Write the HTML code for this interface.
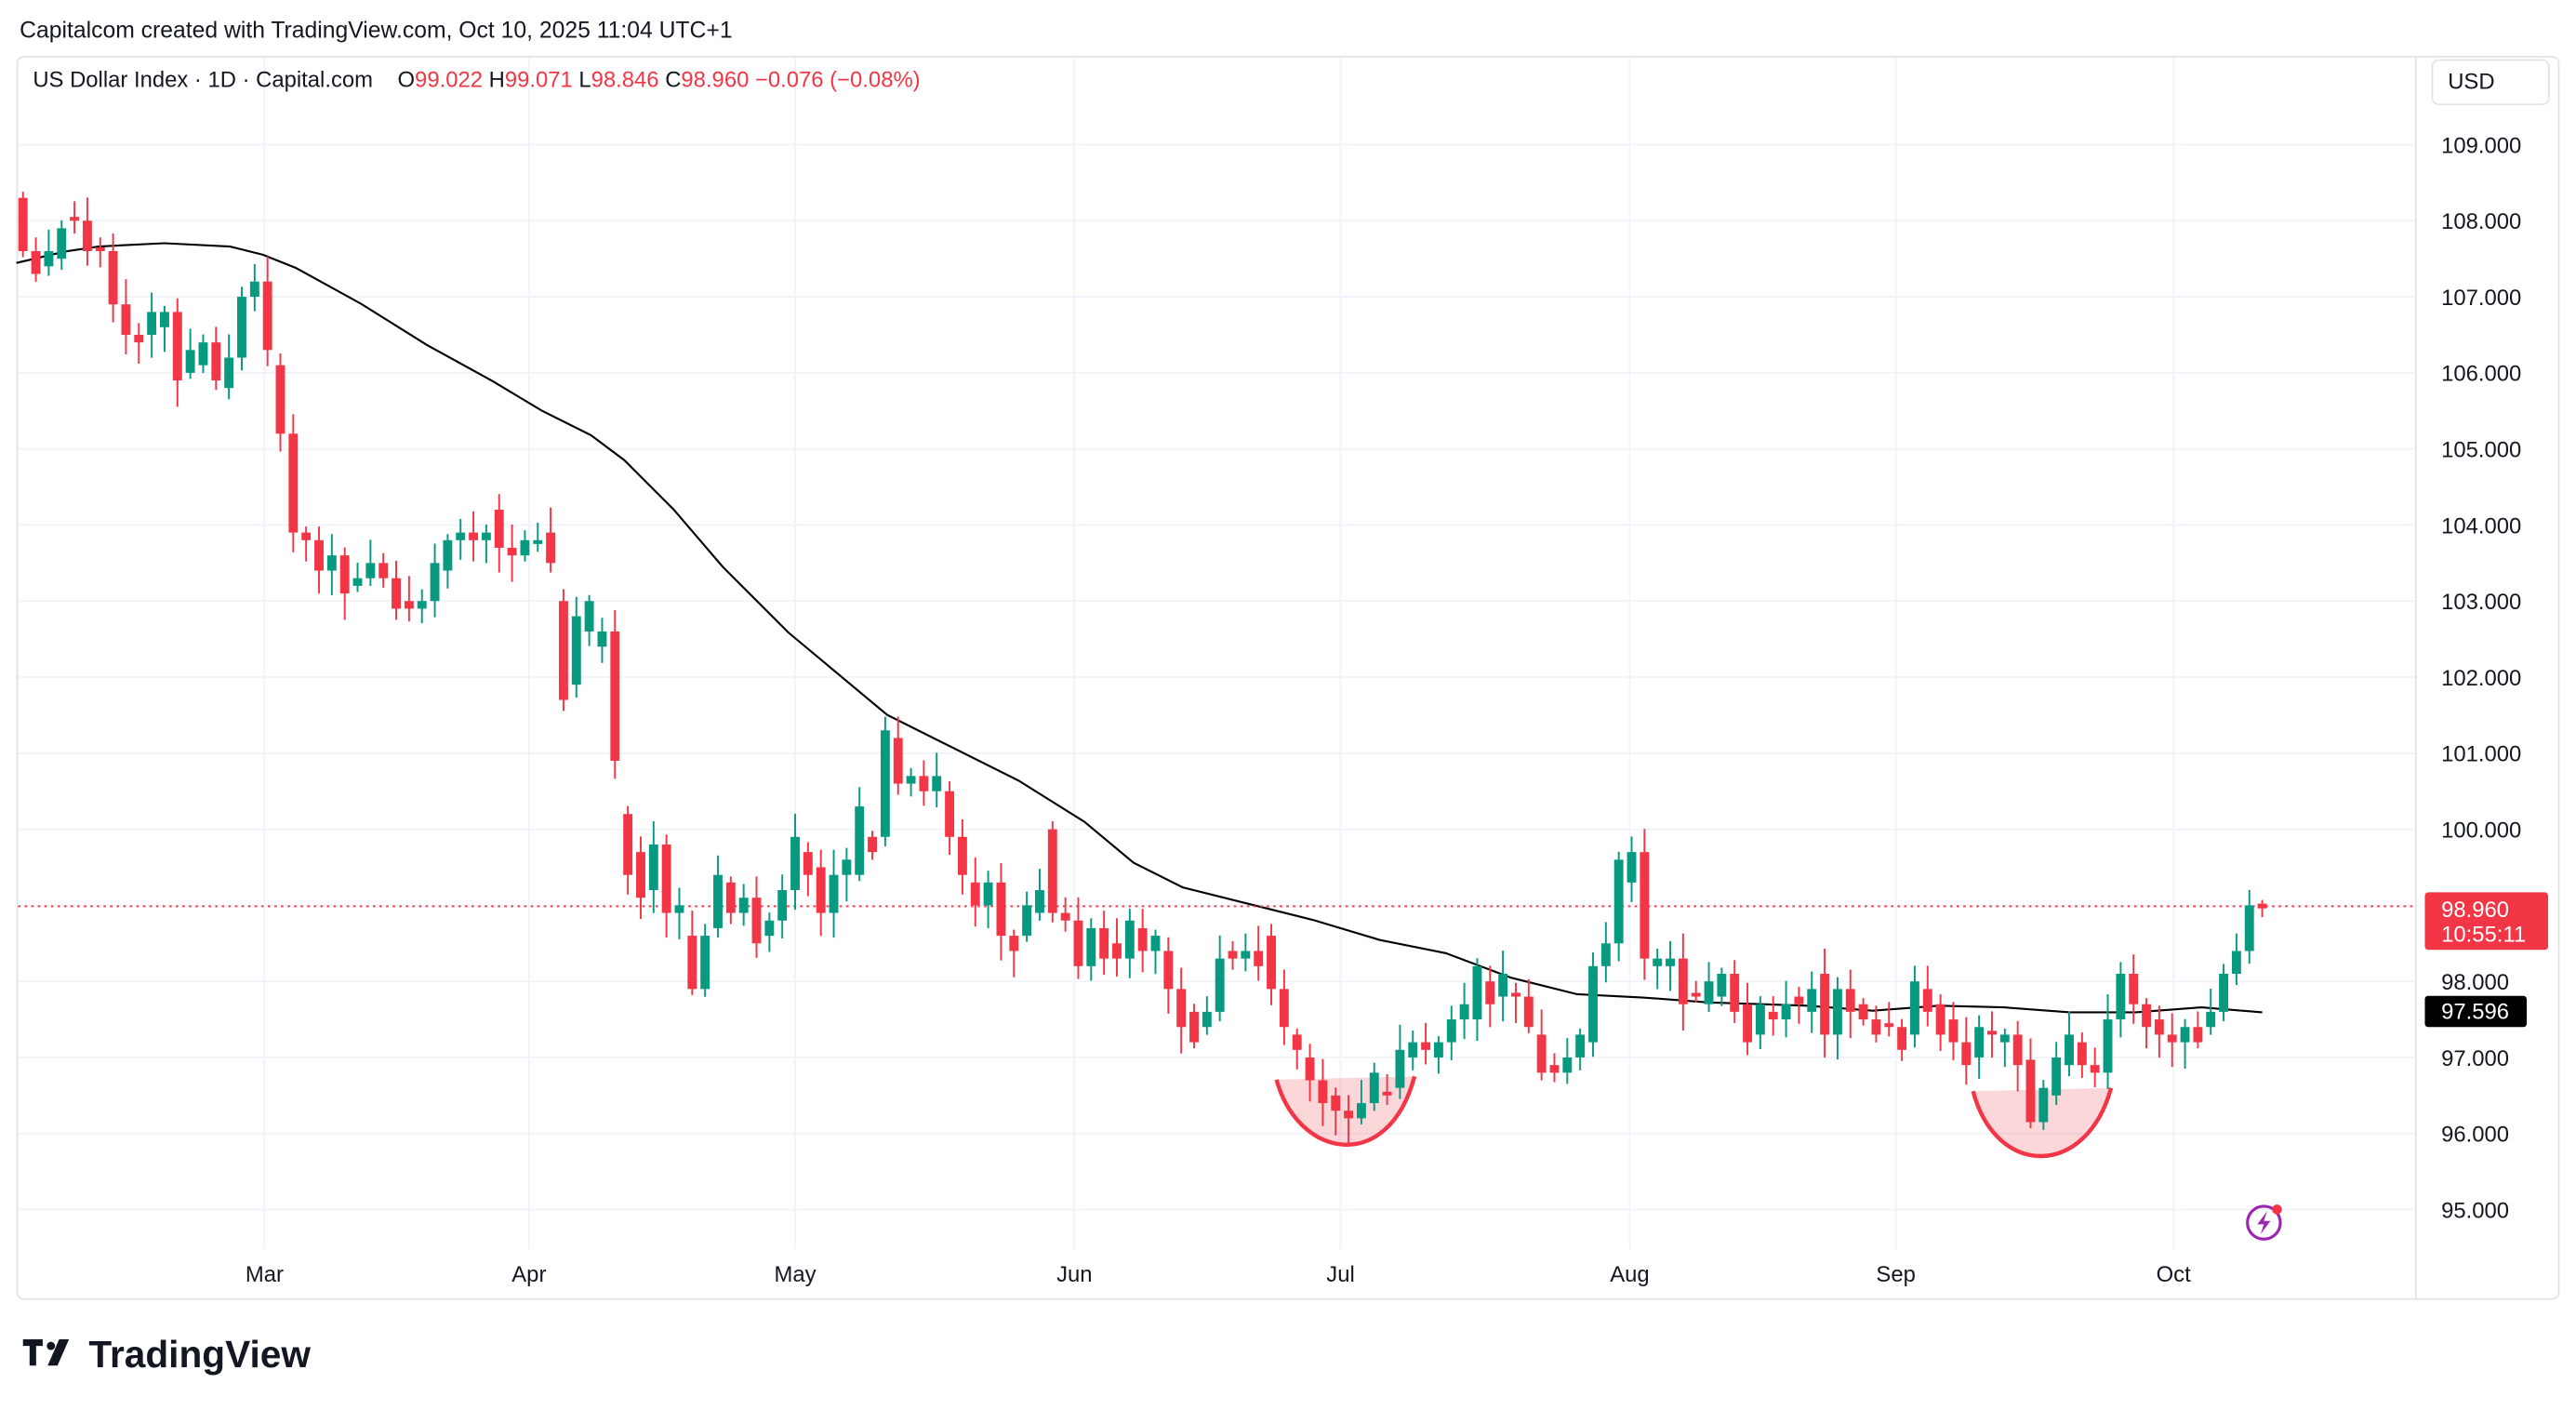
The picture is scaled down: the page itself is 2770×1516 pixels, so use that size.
<!DOCTYPE html>
<html><head><meta charset="utf-8"><style>
html,body{margin:0;padding:0;background:#fff;}
svg{display:block;}
text{font-family:"Liberation Sans",sans-serif;}
</style></head><body>
<svg id="c" width="2770" height="1516" viewBox="0 0 1568 858" preserveAspectRatio="none" xmlns="http://www.w3.org/2000/svg">
<rect x="0" y="0" width="1568" height="858" fill="#fff"/>
<text x="12" y="23" font-size="14" fill="#131722">Capitalcom created with TradingView.com, Oct 10, 2025 11:04 UTC+1</text>
<rect x="10.5" y="34.5" width="1547" height="756" rx="4" fill="none" stroke="#e0e3eb"/>
<line x1="1470.5" y1="35" x2="1470.5" y2="790" stroke="#e0e3eb"/>
<g id="grid" stroke="#f0f3fa" stroke-width="1"></g>
<g id="ma"></g>
<line x1="11" y1="551.5" x2="1470" y2="551.5" stroke="#f23645" stroke-width="1" stroke-dasharray="1.5,2.5"/>
<path d="M777,657 C790,705 845,715 861,655 Z" fill="rgba(242,54,69,0.2)"/>
<path d="M777,657 C790,705 845,715 861,655" fill="none" stroke="#f23645" stroke-width="2.5"/>
<path d="M1201,664 C1215,717 1270,717 1285,662 Z" fill="rgba(242,54,69,0.2)"/>
<path d="M1201,664 C1215,717 1270,717 1285,662" fill="none" stroke="#f23645" stroke-width="2.5"/>
<g id="candles"></g>
<g id="axis" font-size="13.5" fill="#131722"></g>
<text x="20" y="53" font-size="13.5" fill="#131722">US Dollar Index · 1D · Capital.com</text>
<text x="242" y="53" font-size="13.5" fill="#131722">O<tspan fill="#f23645">99.022</tspan> H<tspan fill="#f23645">99.071</tspan> L<tspan fill="#f23645">98.846</tspan> C<tspan fill="#f23645">98.960</tspan> <tspan fill="#f23645">−0.076 (−0.08%)</tspan></text>
<rect x="1480.5" y="36.5" width="71" height="27" rx="4" fill="#fff" stroke="#e0e3eb"/>
<text x="1490" y="54" font-size="13.5" fill="#131722">USD</text>
<rect x="1476" y="543" width="75" height="35" rx="2" fill="#f23645"/>
<text x="1486" y="558" font-size="13.5" fill="#fff">98.960</text>
<text x="1486" y="573" font-size="13.5" fill="#fff">10:55:11</text>
<rect x="1476" y="606" width="62" height="19" rx="2" fill="#000"/>
<text x="1486" y="620" font-size="13.5" fill="#fff">97.596</text>
<circle cx="1378" cy="744" r="10" fill="none" stroke="#9c27b0" stroke-width="1.8"/>
<path d="M1380,737 L1374,745 L1378,745 L1376,751 L1382,743 L1378,743 Z" fill="#9c27b0"/>
<circle cx="1386" cy="736" r="3" fill="#f23645"/>
<g fill="#131722">
<path d="M14,815 h12 v4 h-4 v12 h-4 v-12 h-4 z"/>
<circle cx="31" cy="819" r="2.5"/>
<path d="M36,815 h6 l-7,16 h-6 z"/>
</g>
<text x="54" y="832" font-size="23" font-weight="bold" fill="#131722">TradingView</text>
</svg>
<script>
var NS="http://www.w3.org/2000/svg";
function el(t,a,p){var e=document.createElementNS(NS,t);for(var k in a)e.setAttribute(k,a[k]);p.appendChild(e);return e;}
function Y(p){return 88+(109-p)*46.29;}
var grid=document.getElementById('grid'),axis=document.getElementById('axis');
for(var p=95;p<=109;p++){var y=Y(p);el('line',{x1:11,x2:1470,y1:y,y2:y},grid);
 var t=el('text',{x:1486,y:y+5},axis);t.textContent=p.toFixed(3);}
var months=[["Mar",161],["Apr",322],["May",484],["Jun",654],["Jul",816],["Aug",992],["Sep",1154],["Oct",1323]];
months.forEach(function(m){el('line',{x1:m[1],x2:m[1],y1:35,y2:760},grid);var t=el('text',{x:m[1],y:780,'text-anchor':'middle'},axis);t.textContent=m[0];});
var D=[[108.3,107.6],[107.6,107.3],[107.4,107.6],[107.5,107.9],[108.05,108.0],[108.0,107.6],[107.65,107.6],[107.6,106.9],[106.9,106.5],[106.5,106.4],[106.5,106.8],[106.6,106.8],[106.8,105.9],[106.0,106.3],[106.1,106.4],[106.4,105.9],[105.8,106.2],[106.2,107.0],[107.0,107.2],
[107.2,106.3],[106.1,105.2],[105.2,103.9],[103.9,103.8],[103.8,103.4],[103.4,103.6],[103.6,103.1],[103.2,103.3],[103.3,103.5],[103.5,103.3],[103.3,102.9],[103.0,102.9],[102.9,103.0],[103.0,103.5],[103.4,103.8],[103.8,103.9],[103.9,103.8],[103.8,103.9],[104.2,103.7],
[103.7,103.6],[103.6,103.8],[103.75,103.8],[103.9,103.5],[103.0,101.7],[101.9,102.8],[102.6,103.0],[102.4,102.6],[102.6,100.9],[100.2,99.4],[99.7,99.1],[99.2,99.8],[99.8,98.9],[98.9,99.0],[98.6,97.9],[97.9,98.6],[98.7,99.4],[99.3,98.9],[98.9,99.1],[99.1,98.5],[98.6,98.8],[98.8,99.2],[99.2,99.9],[99.7,99.4],
[99.5,98.9],[98.9,99.4],[99.4,99.6],[99.4,100.3],[99.9,99.7],[99.9,101.3],[101.2,100.6],[100.6,100.7],[100.7,100.5],[100.5,100.7],[100.5,99.9],[99.9,99.4],[99.3,99.0],[99.0,99.3],[99.3,98.6],[98.6,98.4],[98.6,99.0],[98.9,99.2],[100.0,98.9],[98.9,98.8],[98.8,98.2],
[98.2,98.7],[98.7,98.3],[98.5,98.3],[98.3,98.8],[98.7,98.4],[98.4,98.6],[98.4,97.9],[97.9,97.4],[97.6,97.2],[97.4,97.6],[97.6,98.3],[98.4,98.3],[98.3,98.4],[98.4,98.2],[98.6,97.9],[97.9,97.4],[97.3,97.1],[97.0,96.7],[96.7,96.4],[96.5,96.3],[96.3,96.2],
[96.2,96.4],[96.4,96.8],[96.55,96.5],[96.6,97.1],[97.0,97.2],[97.2,97.1],[97.0,97.2],[97.2,97.5],[97.5,97.7],[97.5,98.2],[98.0,97.7],[97.8,98.1],[97.85,97.8],[97.8,97.4],[97.3,96.8],[96.9,96.8],[96.8,97.0],[97.0,97.3],[97.2,98.2],[98.2,98.5],[98.5,99.6],[99.3,99.7],[99.7,98.3],
[98.2,98.3],[98.2,98.3],[98.3,97.7],[97.85,97.8],[97.7,98.0],[97.8,98.1],[98.1,97.6],[97.7,97.2],[97.3,97.7],[97.6,97.5],[97.5,97.7],[97.8,97.7],[97.6,97.9],[98.1,97.3],[97.3,97.9],[97.9,97.6],[97.7,97.5],[97.5,97.3],[97.45,97.4],[97.4,97.1],
[97.3,98.0],[97.9,97.6],[97.7,97.3],[97.5,97.2],[97.2,96.9],[97.0,97.4],[97.35,97.3],[97.2,97.3],[97.3,96.9],[96.97,96.15],[96.15,96.6],[96.5,97.0],[96.9,97.3],[97.2,96.9],[96.9,96.8],[96.8,97.5],[97.5,98.1],[98.1,97.7],[97.7,97.4],[97.5,97.3],[97.3,97.2],
[97.2,97.4],[97.4,97.2],[97.4,97.6],[97.6,98.1],[98.1,98.4],[98.4,99.0],[99.022,98.96]];
var g=document.getElementById('candles');var n=D.length;var step=(1377-14)/(n-1);
for(var i=0;i<n;i++){var o=D[i][0],c=D[i][1];var x=14+i*step;
 var r1=0.08+((i*37)%11)/40,r2=0.08+((i*53)%13)/45;
 var h=Math.max(o,c)+r1,l=Math.min(o,c)-r2;
 if(i==n-1){h=99.071;l=98.846;} if(i==n-2){h=99.2;}
 var col=c>=o?'#089981':'#f23645';
 el('line',{x1:x,x2:x,y1:Y(h),y2:Y(l),stroke:col,'stroke-width':1.1},g);
 var yt=Y(Math.max(o,c)),yb=Y(Math.min(o,c));if(yb-yt<1.5)yb=yt+1.5;
 el('rect',{x:x-2.8,y:yt,width:5.6,height:yb-yt,fill:col},g);}
var M=[[10,160],[40,153],[60,150],[100,148],[140,150],[160,155],[180,163],[220,185],[260,210],[300,232],[330,250],[360,265],[380,280],[410,310],[440,345],[480,385],[510,410],[540,435],[580,455],[620,475],[660,500],[690,525],[720,540],[760,550],[800,560],[840,572],[880,580],[920,595],[960,605],[1000,607],[1040,610],[1100,612],[1140,615],[1180,612],[1220,613],[1260,616],[1300,616],[1340,613],[1377,616]];
el('polyline',{points:M.map(function(p){return p.join(',')}).join(' '),fill:'none',stroke:'#000','stroke-width':1.2},document.getElementById('ma'));
</script>
</body></html>
